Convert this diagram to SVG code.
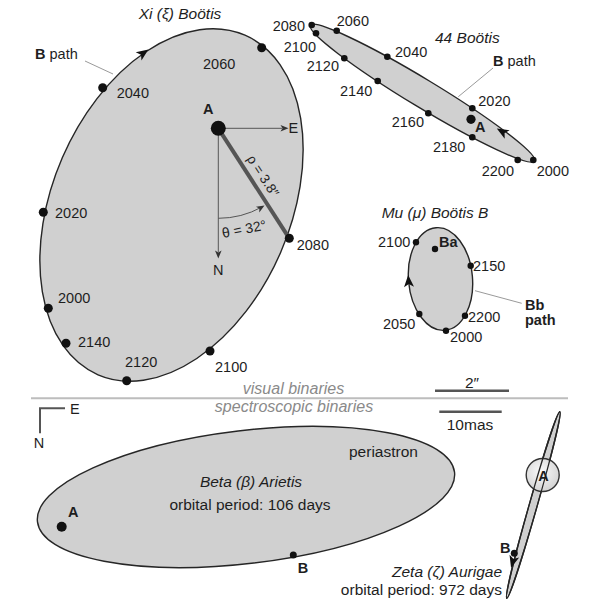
<svg xmlns="http://www.w3.org/2000/svg" width="600" height="600" viewBox="0 0 600 600">
<style>
text{font-family:"Liberation Sans",Arial,sans-serif;fill:#1e1e1e}
.yr{font-size:14.5px}
.t{font-size:15.5px;font-style:italic}
.lb{font-size:14.5px;font-weight:bold}
.rg{font-size:14.5px}
.op{font-size:15.5px}
.sec{font-size:16px;font-style:italic;fill:#8a8a8a}
.orb{fill:#d0d0d0;stroke:#262626;stroke-width:1.4}
.dot{fill:#111}
.lead{stroke:#9a9a9a;stroke-width:1;fill:none}
.thin{stroke:#555;stroke-width:1;fill:none}
.bar{stroke:#555;stroke-width:2.5}
</style>
<defs>
<path id="ah" d="M6,0 L-6,-5 L-3,0 L-6,5 Z" fill="#111"/>
<path id="sah" d="M0,0 L-8,-3.3 L-6,0 L-8,3.3 Z" fill="#333"/>
<radialGradient id="sph" cx="0.45" cy="0.4" r="0.6">
<stop offset="0" stop-color="#fafafa"/>
<stop offset="1" stop-color="#d4d4d4"/>
</radialGradient>
</defs>
<rect width="600" height="600" fill="#fff"/>

<g id="connectors">
<line class="lead" x1="85" y1="61" x2="113" y2="74"/>
<line class="lead" x1="493" y1="68" x2="458.3" y2="96.7"/>
<line class="lead" x1="475" y1="290.7" x2="521.7" y2="303.3"/>
<line class="lead" x1="418.3" y1="459.3" x2="453.3" y2="468.3"/>
</g>

<g id="xi-bootis">
<ellipse class="orb" cx="171.5" cy="205" rx="119" ry="185" transform="rotate(23.4 171.5 205)"/>
<use href="#ah" transform="translate(143.5,53) rotate(-35)"/>
<text class="t" x="180" y="18.5" text-anchor="middle">Xi (ξ) Boötis</text>
<text x="35" y="59" class="rg"><tspan font-weight="bold">B</tspan> path</text>
<line x1="218.3" y1="128.3" x2="282" y2="128.3" class="thin"/>
<use href="#sah" transform="translate(288.5,128.3)"/>
<line x1="218.3" y1="128.3" x2="218.3" y2="252" class="thin"/>
<use href="#sah" transform="translate(218.3,258.5) rotate(90)"/>
<path d="M218.3,218.3 A90,90 0 0 0 261.9,207" class="thin"/>
<use href="#sah" transform="translate(264.5,205.5) rotate(-30.5)"/>
<line x1="218.3" y1="128.3" x2="289.3" y2="238.3" stroke="#555" stroke-width="4"/>
<circle class="dot" cx="218.3" cy="128.3" r="7.5"/>
<text class="lb" x="203" y="113.5">A</text>
<text class="rg" x="288.5" y="133">E</text>
<text class="rg" x="218.3" y="275" text-anchor="middle">N</text>
<text font-size="13.5" transform="translate(263,176) rotate(57.2)" text-anchor="middle" y="4.5">ρ = 3.8″</text>
<text font-size="14" transform="translate(223,238) rotate(-11)">θ = 32°</text>
<circle class="dot" cx="261.7" cy="47.7" r="4.5"/>
<circle class="dot" cx="102.7" cy="87.7" r="4.5"/>
<circle class="dot" cx="43.3" cy="212.3" r="4.5"/>
<circle class="dot" cx="48.3" cy="308.3" r="4.5"/>
<circle class="dot" cx="66" cy="343.3" r="4.5"/>
<circle class="dot" cx="126.7" cy="380.7" r="4.5"/>
<circle class="dot" cx="210" cy="351" r="4.5"/>
<circle class="dot" cx="289.3" cy="238.3" r="4.5"/>
<text class="yr" x="203" y="69">2060</text>
<text class="yr" x="116.7" y="97.7">2040</text>
<text class="yr" x="55" y="218.3">2020</text>
<text class="yr" x="58" y="303">2000</text>
<text class="yr" x="78" y="346.7">2140</text>
<text class="yr" x="125" y="366.7">2120</text>
<text class="yr" x="215" y="371.7">2100</text>
<text class="yr" x="296.7" y="250">2080</text>
</g>

<g id="44-bootis">
<ellipse class="orb" cx="422.5" cy="93.2" rx="131" ry="14" transform="rotate(31.2 422.5 93.2)"/>
<use href="#ah" transform="translate(502,131.5) rotate(-150)"/>
<text class="t" x="435" y="43.3">44 Boötis</text>
<text x="493" y="66" class="rg"><tspan font-weight="bold">B</tspan> path</text>
<circle class="dot" cx="311.7" cy="25" r="3.3"/>
<circle class="dot" cx="316" cy="33.3" r="3.3"/>
<circle class="dot" cx="336.7" cy="30.7" r="3.3"/>
<circle class="dot" cx="344.3" cy="58.3" r="3.3"/>
<circle class="dot" cx="387.3" cy="56.7" r="3.3"/>
<circle class="dot" cx="377.7" cy="81" r="3.3"/>
<circle class="dot" cx="428.3" cy="113.3" r="3.3"/>
<circle class="dot" cx="472.3" cy="108.3" r="3.3"/>
<circle class="dot" cx="472.3" cy="137.3" r="3.3"/>
<circle class="dot" cx="517.7" cy="160" r="3.3"/>
<circle class="dot" cx="533.3" cy="160" r="3.3"/>
<circle class="dot" cx="471" cy="119.3" r="4.6"/>
<text class="lb" x="475" y="131.7">A</text>
<text class="yr" x="305" y="31" text-anchor="end">2080</text>
<text class="yr" x="316" y="52" text-anchor="end">2100</text>
<text class="yr" x="336.7" y="26">2060</text>
<text class="yr" x="306.7" y="70.7">2120</text>
<text class="yr" x="395" y="57.3">2040</text>
<text class="yr" x="340" y="96">2140</text>
<text class="yr" x="391.7" y="126.7">2160</text>
<text class="yr" x="478.3" y="106">2020</text>
<text class="yr" x="433" y="151.7">2180</text>
<text class="yr" x="481.7" y="175.7">2200</text>
<text class="yr" x="536.7" y="175.7">2000</text>
</g>

<g id="mu-bootis-b">
<ellipse class="orb" cx="440.5" cy="279" rx="32" ry="51.5" transform="rotate(-5 440.5 279)"/>
<use href="#ah" transform="translate(408.6,281) rotate(-94)"/>
<text class="t" x="381.7" y="218">Mu (μ) Boötis B</text>
<circle class="dot" cx="416" cy="242.3" r="3.2"/>
<circle class="dot" cx="435" cy="249" r="3.2"/>
<circle class="dot" cx="470.7" cy="265.7" r="3.2"/>
<circle class="dot" cx="465" cy="315.7" r="3.2"/>
<circle class="dot" cx="446" cy="330.7" r="3.2"/>
<circle class="dot" cx="419.3" cy="314" r="3.2"/>
<text class="yr" x="378" y="247">2100</text>
<text class="lb" x="439" y="247">Ba</text>
<text class="yr" x="473" y="270.7">2150</text>
<text class="yr" x="468" y="322">2200</text>
<text class="yr" x="450" y="342">2000</text>
<text class="yr" x="383" y="329">2050</text>
<text class="lb" x="525" y="310">Bb</text>
<text class="lb" x="525" y="325">path</text>
</g>

<g id="divider">
<line x1="31" y1="398.3" x2="568" y2="398.3" stroke="#bdbdbd" stroke-width="2"/>
<text class="sec" x="293.5" y="394.3" text-anchor="middle">visual binaries</text>
<text class="sec" x="294" y="412" text-anchor="middle">spectroscopic binaries</text>
</g>

<g id="scales">
<line class="bar" x1="435" y1="390.7" x2="509" y2="390.7"/>
<text class="op" x="472" y="387.5" text-anchor="middle">2″</text>
<line class="bar" x1="439.3" y1="411.7" x2="501.7" y2="411.7"/>
<text class="op" x="470" y="430" text-anchor="middle">10mas</text>
</g>

<g id="compass">
<path d="M65,408.3 H40 V433.3" fill="none" stroke="#555" stroke-width="2"/>
<text class="rg" x="70" y="413.5">E</text>
<text class="rg" x="39" y="448" text-anchor="middle">N</text>
</g>

<g id="beta-arietis">
<ellipse class="orb" cx="246" cy="497" rx="210" ry="66.5" transform="rotate(-6.8 246 497)"/>
<circle class="dot" cx="61.7" cy="526.7" r="5"/>
<circle class="dot" cx="293.3" cy="555" r="3.5"/>
<text class="lb" x="68" y="517">A</text>
<text class="lb" x="297.7" y="572.7">B</text>
<text class="op" x="349" y="457">periastron</text>
<text class="t" x="251" y="486.7" text-anchor="middle">Beta (β) Arietis</text>
<text class="op" x="250" y="510" text-anchor="middle">orbital period: 106 days</text>
</g>

<g id="zeta-aurigae">
<ellipse class="orb" cx="533.3" cy="505" rx="4" ry="97" transform="rotate(15.9 533.3 505)"/>
<circle cx="542.7" cy="475" r="16.5" fill="url(#sph)" stroke="#333" stroke-width="1.4"/>
<ellipse cx="533.3" cy="505" rx="4" ry="97" transform="rotate(15.9 533.3 505)" fill="none" stroke="#262626" stroke-width="1.2"/>
<text class="lb" x="543.5" y="480.5" text-anchor="middle">A</text>
<circle class="dot" cx="514.3" cy="553.3" r="3.5"/>
<text class="lb" x="500" y="553">B</text>
<use href="#ah" transform="translate(512.7,562) rotate(105.9)"/>
<text class="t" x="502" y="577" text-anchor="end" font-size="15">Zeta (ζ) Aurigae</text>
<text class="op" x="502" y="594.5" text-anchor="end" font-size="15">orbital period: 972 days</text>
</g>
</svg>
